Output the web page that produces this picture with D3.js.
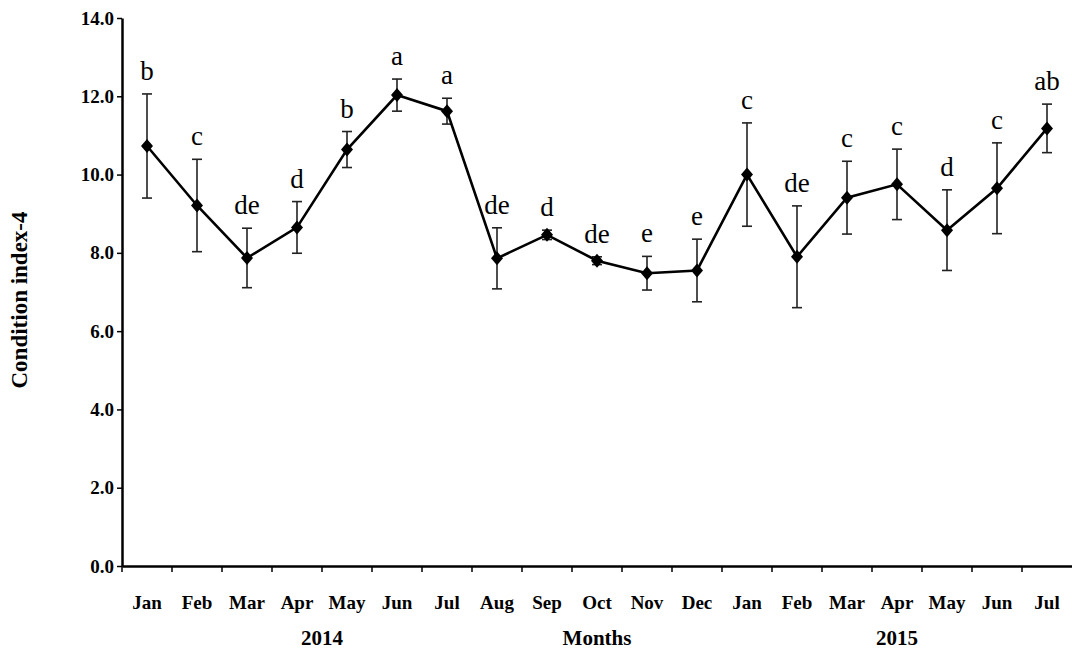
<!DOCTYPE html>
<html><head><meta charset="utf-8">
<script src="https://cdn.jsdelivr.net/npm/d3@7"></script>
<style>body{margin:0;background:#fff}svg{display:block}text{font-family:'Liberation Serif','Times New Roman',serif}</style>
</head><body>
<svg id="c" width="1072" height="652"></svg>
<script>
const months = ["Jan","Feb","Mar","Apr","May","Jun","Jul","Aug","Sep","Oct","Nov","Dec","Jan","Feb","Mar","Apr","May","Jun","Jul"];
const values = [10.73,9.21,7.87,8.65,10.64,12.03,11.62,7.86,8.46,7.80,7.48,7.55,10.00,7.90,9.41,9.75,8.58,9.65,11.18];
const errors = [1.33,1.18,0.76,0.66,0.46,0.41,0.33,0.78,0.12,0.10,0.43,0.80,1.32,1.30,0.93,0.90,1.03,1.16,0.62];
const letters = ["b","c","de","d","b","a","a","de","d","de","e","e","c","de","c","c","d","c","ab"];
const yTicks = [0,2,4,6,8,10,12,14];
const years = [{label:"2014", from:0, to:7},{label:"Months", from:9, to:9},{label:"2015", from:15, to:15}];

(function(){
const svg = d3.select("#c");
const mLeft = 122, mRight = 1072, mTop = 18, mBottom = 566;
const idx = d3.range(months.length);
const x = d3.scaleBand().domain(idx).range([mLeft, mRight]).paddingInner(0).paddingOuter(0);
const y = d3.scaleLinear().domain([0,14]).range([mBottom, mTop]);
const cx = i => x(i) + x.bandwidth()/2;
const font = "'Liberation Serif','Times New Roman',serif";

// Y axis
const yAxis = svg.append("g").attr("transform", `translate(${mLeft},0)`)
  .call(d3.axisLeft(y).tickValues(yTicks).tickFormat(d3.format(".1f")).tickSize(5).tickSizeOuter(0));
yAxis.attr("font-family", font);
yAxis.select(".domain").attr("stroke","#000").attr("stroke-width",2.5);
yAxis.selectAll(".tick line").attr("stroke","#000").attr("stroke-width",1.5);
yAxis.selectAll(".tick text").attr("font-family",font).attr("font-size",19).attr("font-weight","bold").attr("fill","#000").attr("x",-8);

// X axis
const xAxis = svg.append("g").attr("transform", `translate(0,${mBottom})`)
  .call(d3.axisBottom(x).tickSize(0).tickFormat(i => months[i]));
xAxis.attr("font-family", font);
xAxis.select(".domain").attr("stroke","#000").attr("stroke-width",2.5);
xAxis.selectAll(".tick text").attr("font-family",font).attr("font-size",19).attr("font-weight","bold").attr("fill","#000").attr("dy","0").attr("y",43);
// boundary ticks
svg.append("g").selectAll("line").data(idx).join("line")
  .attr("x1", i => x(i)).attr("x2", i => x(i))
  .attr("y1", mBottom).attr("y2", mBottom+6)
  .attr("stroke","#000").attr("stroke-width",1.5);

// year / axis labels
svg.append("g").selectAll("text").data(years).join("text")
  .attr("x", d => (x(d.from) + x(d.to) + x.bandwidth())/2)
  .attr("y", 645)
  .attr("text-anchor","middle")
  .attr("font-family",font).attr("font-size",21).attr("font-weight","bold")
  .text(d => d.label);

svg.append("text")
  .attr("transform", `translate(27,${(mTop+mBottom)/2 + 8}) rotate(-90)`)
  .attr("text-anchor","middle")
  .attr("font-family",font).attr("font-size",23).attr("font-weight","bold")
  .text("Condition index-4");

// error bars
const eb = svg.append("g").attr("stroke","#222").attr("stroke-width",1.6);
idx.forEach(i => {
  const x0 = cx(i), yt = y(values[i]+errors[i]), yb = y(values[i]-errors[i]);
  eb.append("line").attr("x1",x0).attr("x2",x0).attr("y1",yt).attr("y2",yb);
  eb.append("line").attr("x1",x0-5).attr("x2",x0+5).attr("y1",yt).attr("y2",yt);
  eb.append("line").attr("x1",x0-5).attr("x2",x0+5).attr("y1",yb).attr("y2",yb);
});

// line
svg.append("path").datum(idx)
  .attr("fill","none").attr("stroke","#000").attr("stroke-width",2.6)
  .attr("d", d3.line().x(i => cx(i)).y(i => y(values[i])));

// markers
svg.append("g").selectAll("path").data(idx).join("path")
  .attr("transform", i => `translate(${cx(i)},${y(values[i])})`)
  .attr("d", "M0,-7L6,0L0,7L-6,0Z")
  .attr("fill","#000");

// significance letters
svg.append("g").selectAll("text").data(idx).join("text")
  .attr("x", i => cx(i))
  .attr("y", i => y(values[i]+errors[i]) - 14)
  .attr("text-anchor","middle")
  .attr("font-family",font).attr("font-size",27)
  .text(i => letters[i]);
})();
</script>
</body></html>
